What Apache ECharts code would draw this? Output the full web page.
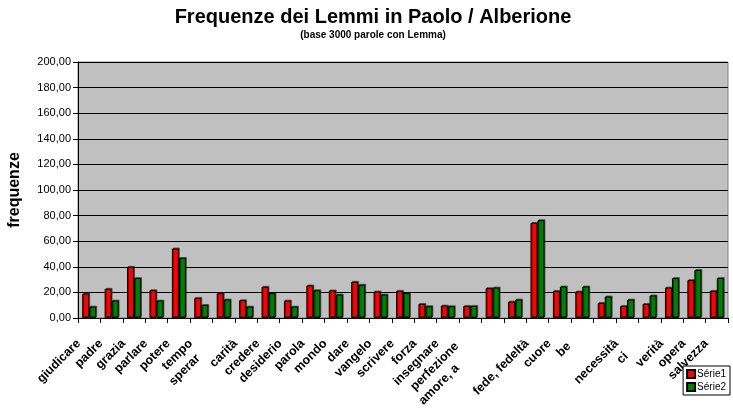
<!DOCTYPE html>
<html>
<head>
<meta charset="utf-8">
<script src="https://cdn.jsdelivr.net/npm/echarts@6/dist/echarts.min.js"></script>
<style>
  html, body { margin: 0; padding: 0; background: #fff; }
  #main { width: 733px; height: 411px; }
</style>
</head>
<body>
<div id="main"></div>
<script>
// lemmi (some labels appear cut off in the original chart)
const lemmi = ['giudicare', 'padre', 'grazia', 'parlare', 'potere', 'tempo', 'sperar', 'carità',
    'credere', 'desiderio', 'parola', 'mondo', 'dare', 'vangelo', 'scrivere', 'forza', 'insegnare',
    'perfezione', 'amore, a', '', 'fede, fedeltà', 'cuore', 'be', '', 'necessità', 'ci',
    'verità', 'opera', 'salvezza'];

const serie1 = [19, 22.8, 40, 21.7, 54.3, 15.7, 19.4, 13.9, 24.4, 13.6, 25.4, 21.5, 28.3, 20.7, 21.2,
    11, 9.7, 9.4, 23.3, 12.8, 74.3, 21.2, 20.7, 11.8, 9.4, 11, 23.8, 29.6, 21.2];
const serie2 = [8.9, 13.6, 31.2, 13.6, 46.9, 10.2, 14.4, 8.9, 19.4, 8.9, 21.7, 18.3, 26, 18.3, 19.4,
    9.2, 9.2, 9.4, 23.8, 14.4, 76.4, 24.6, 24.6, 16.8, 14.4, 17.6, 31.2, 37.5, 31.2];

const seriesNames = ['Série1', 'Série2'];

const FONT = 'Liberation Sans, Arial, sans-serif';

// which rich style each label uses (clipped labels sit lower-left)
const labelStyleKey = { 6: 'b', 17: 'a', 18: 'd', 22: 'a', 25: 'c' };

function labelRich(pad) {
    return { fontFamily: FONT, fontSize: 12.5, fontWeight: 'bold', color: '#000', padding: [0, pad, 0, 0] };
}

const barStyle = function (color) {
    return {
        color: color,
        borderColor: '#000',
        borderWidth: 1,
        shadowColor: 'rgba(0,0,0,0.45)',
        shadowOffsetX: 1,
        shadowOffsetY: -1
    };
};

let chart = echarts.init(document.getElementById('main'));

let option = {
    backgroundColor: '#fff',
    animation: false,
    textStyle: { fontFamily: FONT },
    title: {
        text: 'Frequenze dei Lemmi in Paolo / Alberione',
        subtext: '(base 3000 parole con Lemma)',
        left: 368,
        textAlign: 'center',
        top: 2,
        itemGap: 3,
        textStyle: { fontFamily: FONT, fontSize: 20, fontWeight: 'bold', color: '#000' },
        subtextStyle: { fontFamily: FONT, fontSize: 10, fontWeight: 'bold', color: '#000' }
    },
    legend: {
        orient: 'vertical',
        right: 3,
        top: 366,
        itemWidth: 8,
        itemHeight: 8,
        itemGap: 3,
        padding: [3, 4, 3, 3],
        backgroundColor: '#fff',
        borderColor: '#000',
        borderWidth: 1,
        borderRadius: 0,
        icon: 'rect',
        textStyle: { fontFamily: FONT, fontSize: 10, color: '#000', padding: [0, 0, 0, -3] },
        data: seriesNames
    },
    grid: {
        left: 78,
        right: 5,
        top: 62,
        bottom: 93,
        outerBoundsMode: 'none',
        containLabel: false,
        show: true,
        backgroundColor: '#c0c0c0',
        borderColor: '#808080',
        borderWidth: 1
    },
    xAxis: {
        type: 'category',
        data: lemmi,
        name: 'lemmi',
        nameLocation: 'middle',
        nameGap: 87,
        nameTextStyle: { fontFamily: FONT, fontSize: 14, fontWeight: 'bold', color: '#000', padding: [0, 0, 0, 36] },
        axisLine: { lineStyle: { color: '#000', width: 1 } },
        axisTick: { show: true, length: 5, lineStyle: { color: '#000' } },
        axisLabel: {
            interval: 0,
            rotate: 45,
            margin: 13,
            formatter: function (value, idx) {
                if (!value) return '';
                const key = labelStyleKey[idx] || 'n';
                return '{' + key + '|' + value + '}';
            },
            rich: {
                n: labelRich(15),
                a: labelRich(19),
                b: labelRich(36),
                c: labelRich(33),
                d: labelRich(50)
            }
        }
    },
    yAxis: {
        type: 'value',
        min: 0,
        max: 200,
        interval: 20,
        name: 'frequenze',
        nameLocation: 'middle',
        nameGap: 55,
        nameTextStyle: { fontFamily: FONT, fontSize: 16, fontWeight: 'bold', color: '#000' },
        axisLine: { show: true, lineStyle: { color: '#000', width: 1 } },
        axisTick: { show: true, length: 5, lineStyle: { color: '#000' } },
        axisLabel: {
            margin: 7,
            fontFamily: FONT,
            fontSize: 11,
            color: '#000',
            formatter: function (v) { return v.toFixed(2).replace('.', ','); }
        },
        splitLine: { show: true, lineStyle: { color: '#000', width: 1 } }
    },
    series: [
        {
            name: seriesNames[0],
            type: 'bar',
            data: serie1,
            barWidth: 7,
            barGap: '0%',
            itemStyle: barStyle('#ff0000')
        },
        {
            name: seriesNames[1],
            type: 'bar',
            data: serie2,
            barWidth: 7,
            barGap: '0%',
            itemStyle: barStyle('#008000')
        }
    ]
};

chart.setOption(option);
</script>
</body>
</html>
